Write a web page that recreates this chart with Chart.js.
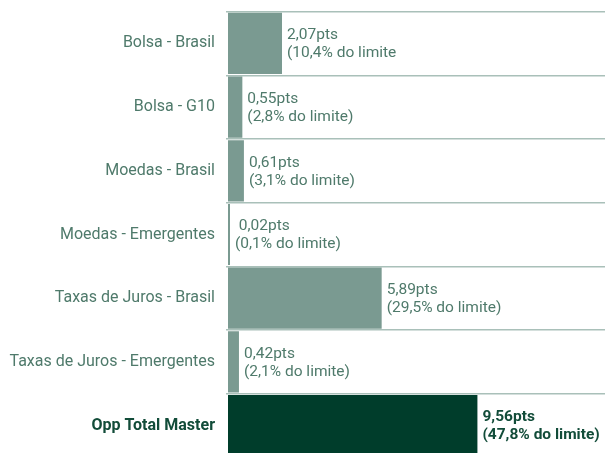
<!DOCTYPE html>
<html>
<head>
<meta charset="utf-8">
<script src="https://cdn.jsdelivr.net/npm/chart.js@4/dist/chart.umd.min.js"></script>
<style>
html,body{margin:0;padding:0;background:#fff;overflow:hidden;}
#wrap{width:605px;height:453px;position:relative;overflow:hidden;}
#c{position:absolute;left:0;top:-9px;}
</style>
</head>
<body>
<div id="wrap"><canvas id="c" width="605" height="487"></canvas></div>
<script>
const categories = ["Bolsa - Brasil","Bolsa - G10","Moedas - Brasil","Moedas - Emergentes","Taxas de Juros - Brasil","Taxas de Juros - Emergentes","Opp Total Master"];
const values = [2.07,0.55,0.61,0.02,5.89,0.42,9.56];
const valueLabels = ["2,07pts","0,55pts","0,61pts"," 0,02pts","5,89pts","0,42pts","9,56pts"];
const limitLabels = ["(10,4% do limite","(2,8% do limite)","(3,1% do limite)","(0,1% do limite)","(29,5% do limite)","(2,1% do limite)","(47,8% do limite)"];

const FONT = "Roboto";
const lightBar = "#7a9a91";
const darkBar = "#003d2b";
const textColor = "#4f7a6b";
const boldColor = "#124c39";

const labelPlugin = {
  id: 'valueLabels',
  afterDatasetsDraw(chart) {
    const ctx = chart.ctx;
    const meta = chart.getDatasetMeta(0);
    meta.data.forEach((bar, i) => {
      const last = i === values.length - 1;
      ctx.save();
      ctx.font = (last ? "bold " : "") + "15.5px " + FONT;
      ctx.fillStyle = last ? boldColor : textColor;
      ctx.textAlign = "left";
      ctx.textBaseline = "middle";
      const x = bar.x + 5;
      ctx.fillText(valueLabels[i], x, bar.y - 8);
      ctx.fillText(limitLabels[i], x, bar.y + 10);
      ctx.restore();
    });
  }
};

new Chart(document.getElementById('c'), {
  type: 'bar',
  data: {
    labels: categories,
    datasets: [{
      data: values,
      backgroundColor: values.map((v, i) => i === values.length - 1 ? darkBar : lightBar),
      borderWidth: 0,
      categoryPercentage: 1,
      barPercentage: 0.96,
      minBarLength: 2
    }]
  },
  options: {
    indexAxis: 'y',
    responsive: false,
    animation: false,
    devicePixelRatio: 1,
    layout: { padding: 0 },
    plugins: { legend: { display: false }, tooltip: { enabled: false } },
    scales: {
      x: { display: false, min: 0, max: 14.45 },
      y: {
        border: { display: false },
        grid: { offset: true, color: "#a9c0b9", lineWidth: 1.5, tickLength: 2 },
        ticks: {
          padding: 11,
          color: (c) => c.index === categories.length - 1 ? boldColor : textColor,
          font: (c) => ({ family: FONT, size: 16, weight: c.index === categories.length - 1 ? 'bold' : 'normal' })
        },
        afterFit(scale) { scale.width = 228; }
      }
    }
  },
  plugins: [labelPlugin]
});
</script>
</body>
</html>
